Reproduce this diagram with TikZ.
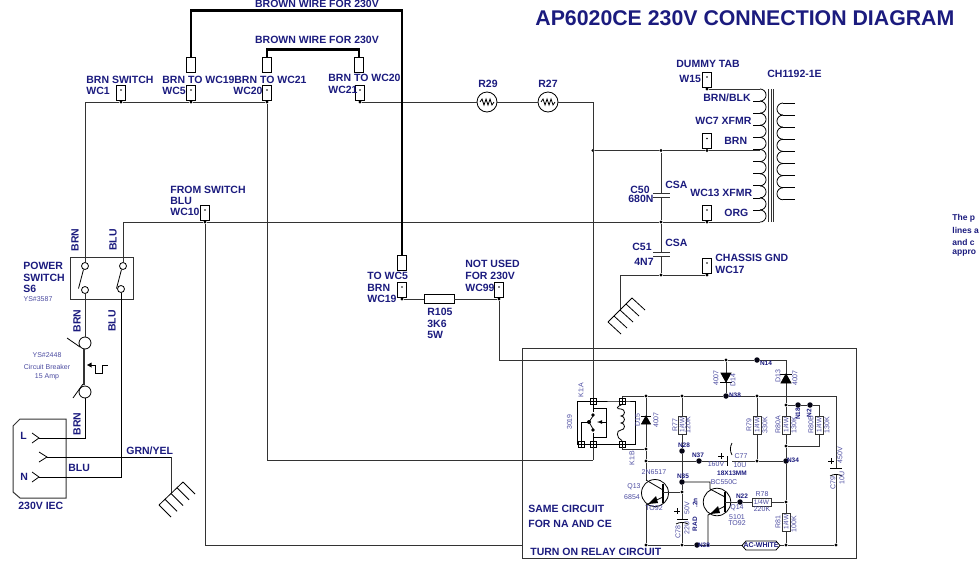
\documentclass[tikz,border=0pt]{standalone}
\usepackage{fontspec}
\setmainfont{Liberation Sans}
\definecolor{navy}{HTML}{1B1B7E}
\definecolor{thin}{HTML}{4B4BA0}
\definecolor{wire}{HTML}{333333}
\tikzset{
  lbl/.style={text=navy,font=\bfseries\fontsize{10.5}{12}\selectfont,inner sep=0pt,anchor=west},
  rlbl/.style={lbl,anchor=center,rotate=90},
  small/.style={text=thin,font=\fontsize{7}{8}\selectfont,inner sep=0pt},
  rsmall/.style={small,rotate=90},
  nlbl/.style={text=navy,font=\bfseries\fontsize{6.5}{7}\selectfont,inner sep=0pt},
  tabbox/.style={draw=black,fill=white,inner sep=0pt,minimum width=9,minimum height=15},
  jn/.style={circle,fill=black,inner sep=0pt,minimum size=3.2},
  bigjn/.style={circle,fill=black!85!navy,inner sep=0pt,minimum size=5.5},
  res/.style={draw=wire,fill=white,inner sep=0pt,minimum width=18,minimum height=8,text=thin,font=\fontsize{6.5}{7}\selectfont},
  pin/.style={draw=black,inner sep=0pt,minimum size=6},
  term/.style={circle,draw=black,fill=white,inner sep=0pt,minimum size=7},
  wirethin/.style={draw=wire,line width=0.8},
  bwire/.style={draw=black,line width=2.2}
}
\begin{document}
\begin{tikzpicture}[x=1pt,y=-1pt,line width=0.8]
\useasboundingbox (0,0) rectangle (980,560);
% tabs with a dot inside, y is that of the wire below
\foreach \nm/\x/\y in {wca/121/102,wcb/191/102,wcc/267/102,wcd/360/102,wce/205/222,wcf/402/299,wcg/499/299,wch/707/89,wci/707/150.5,wcj/707/222,wck/707/275}{
  \node[tabbox](\nm) at(\x,\y-9.5){};
  \fill (\x,\y-12) circle(0.9);
  \node[jn](\nm j) at(\x,\y){};
}
% tabs with the wire on top
\foreach \nm/\x/\y in {tpa/191/64.5,tpb/267/64.5,tpc/359/64.5,tpd/402/263}{
  \node[tabbox](\nm) at(\x,\y){};
}
% junctions
\foreach \nm/\x/\y in {ja/593/150.5,jb/661/150.5,jc/661/222,jd/661/275,jf/646/396,jg/682/396,jh/757/396,ji/646/449,jk/646/461,jl/646/545,jm/682/492,jn1/682/545,jo/708/545,jp/786/545,jq/786/502,jr/757/461,js/786/405,jt/786/446,ju/726/360,jw/836/545}{
  \node[jn](\nm) at(\x,\y){};
}
\foreach \nm/\x/\y in {ba/757/360,bb/726/396,bc/682/451,bd/682/482,be/699/461,bf/786/461,bg/798/405,bh/810/405,bi/740/502,bj/697/545}{
  \node[bigjn](\nm) at(\x,\y){};
}
% main wires
\coordinate (swl) at(85,102);
\coordinate (swr) at(123,222);
\coordinate (top) at(593,102);
\node[circle,draw=black,fill=white,inner sep=0pt,minimum size=20](r29) at(487,102){};
\node[circle,draw=black,fill=white,inner sep=0pt,minimum size=20](r27) at(548,102){};
\foreach \c in {487,548}{
  \draw (\c-7,102)--(\c-5,99)--(\c-3,105)--(\c-1,99)--(\c+1,105)--(\c+3,99)--(\c+5,105)--(\c+7,102);
}
\draw[wirethin] (swl)--(wcaj)--(wcbj)--(wccj);
\draw[wirethin] (wccj)--(267,460)--(593,460);
\draw[wirethin] (wcdj)--(r29)--(r27)--(top)--(ja);
\draw[wirethin] (ja)--(jb)--(wcij)--(760,150.5);
\draw[wirethin] (swr)--(wcej)--(jc)--(wcjj)--(760,222);
\draw[wirethin] (wcej)--(205,545)--(522,545);
\draw[wirethin] (wchj)--(760,89);
\draw[wirethin] (jb)--(661,193) (661,197)--(jc)--(661,252) (661,256)--(jd);
\draw[wirethin] (620.7,310)--(620.7,275)--(jd)--(wckj);
\draw[wirethin] (653,193)--(670,193) (653,197)--(670,197) (653,252)--(670,252) (653,256)--(670,256);
% thick links
\draw[bwire] (tpa.north)--(191,10.5)--(402,10.5)--(tpd.north);
\draw[bwire] (tpb.north)--(267,49.5)--(359,49.5)--(tpc.north);
% R105
\node[draw=black,fill=white,inner sep=0pt,minimum width=30,minimum height=8.5](r105) at(439,299){};
\draw[wirethin] (wcfj)--(r105)--(wcgj);
\draw[wirethin] (wcgj)--(499,360)--(ju)--(ba)--(786,360);
% power switch
\node[draw=wire,inner sep=0pt,minimum width=62.5,minimum height=41.5](s6) at(102,278.5){};
\node[term](sa) at(85,266){};
\node[term](sb) at(123,266){};
\node[term](sc) at(85,290){};
\node[term](sd) at(121,289){};
\draw (83.5,269.5)--(78.5,288.5) (121.5,269.5)--(116.5,288.5);
\draw[wirethin] (swl)--(sa.north);
\draw[wirethin] (swr)--(sb.north);
% breaker
\node[circle,draw=black,fill=white,inner sep=0pt,minimum size=12](cba) at(85,343){};
\node[circle,draw=black,fill=white,inner sep=0pt,minimum size=12](cbb) at(85,392){};
\draw[wirethin] (sc.south)--(cba);
\draw[line width=2,draw=wire] (83.5,349)--(83.5,385);
\draw (67,338)--(80,347) (73,398)--(83,384);
\fill (87,365)--(91.5,362.5)--(91.5,367.5)--cycle;
\draw (91,365)--(95,365)--(95,373)--(102,373)--(102,365)--(108,365);
% inlet
\draw[draw=wire,line width=1] (20,419)--(66,419)--(66,498)--(20,498)--(13,492)--(13,426)--cycle;
\coordinate (pl) at(39,438);
\coordinate (pe) at(47,457);
\coordinate (pn) at(39,477);
\coordinate (ge) at(171,457);
\draw (32,433)--(pl)--(32,443) (39,452)--(pe)--(39,462) (32,472)--(pn)--(32,482);
\draw (cbb.south)--(85,438)--(pl);
\draw (sd.south)--(121,477)--(pn);
\draw (pe)--(ge);
\draw[wirethin] (ge)--(171,493);
% ground symbols
\foreach \i in {0,...,4}{
  \draw (159+6*\i,505-5.75*\i)--(171+6*\i,517-5.75*\i);
  \draw (608+6*\i,322-6*\i)--(621+6*\i,334-6*\i);
}
\draw (159,505)--(183,482) (608,322)--(632,298);
% transformer
\foreach \i in {0,...,10}{
  \draw (760,89+12.1*\i) arc[start angle=-90,end angle=90,radius=6.05];
  \ifnum\i>0 \draw (753,89+12.1*\i)--(760,89+12.1*\i); \fi
}
\foreach \i in {0,...,7}{
  \draw (783,103+12.1*\i) arc[start angle=-90,end angle=-270,radius=6.05];
}
\foreach \i in {0,...,8}{
  \draw (783,103+12.1*\i)--(795,103+12.1*\i);
}
\foreach \x in {768.5,771,773.5}{
  \draw[draw=wire] (\x,89)--(\x,222);
}
% relay circuit box
\node[draw=wire,inner sep=0pt,minimum width=334,minimum height=210,line width=1](board) at(689.5,453){};
\node[pin](pa) at(593,401){};
\node[pin](pb) at(622,401){};
\node[pin](pc) at(581,444){};
\node[pin](pd) at(593,444){};
\node[pin](pe2) at(622,444){};
\foreach \p in {pa,pb,pc,pd,pe2}{
  \draw (\p.north)--(\p.south) (\p.west)--(\p.east);
}
\draw[line width=1] (pa.west)--(577,401)--(577,444)--(pc.west);
\draw[line width=1] (pc.east)--(pd.west) (pd.east)--(pe2.west) (pe2.east)--(635,444)--(635,401)--(pb.east)--(pb.west)--(pa.east);
\draw[wirethin] (top)--(pa.north);
\draw[wirethin] (pd.south)--(593,460);
\draw (pa.south)--(593,412) (pd.north)--(593,433);
\draw (593,408)--(606,408)--(606,437)--(593,437);
\fill (593,415) circle(1.8) (593,430) circle(1.8) (589,422) circle(2);
\draw (581,422)--(589,422) (pc.north)--(581,422);
\draw (589,422)--(593,416) (589,422)--(593,429);
\draw[-latex] (606,422)--(597,422);
\draw (pb.south) .. controls (616,407) and (616,409) .. (621,409) arc[start angle=-90,end angle=90,radius=3.5] arc[start angle=-90,end angle=90,radius=3.5] arc[start angle=-90,end angle=90,radius=3.5] .. controls (616,430) and (616,438) .. (pe2.north);
% rails
\draw[wirethin] (622,396)--(pb.north);
\draw[wirethin] (622,396)--(jf)--(jg)--(bb)--(jh)--(836,396)--(836,468);
\draw[wirethin] (836,475)--(jw);
\draw[wirethin] (622,449)--(pe2.south);
\draw[wirethin] (622,449)--(ji);
\draw[wirethin] (jf)--(ji)--(jk)--(646,480);
\draw[wirethin] (646,505)--(jl);
\draw[wirethin] (jl)--(jn1)--(bj)--(jo)--(742,545) (780,545)--(jp)--(jw);
\draw[wirethin] (jk)--(be)--(727,461) (732,461)--(jr)--(bf);
% R77, R79, R80A, R80B, R81, R78
\node[res,rotate=90](r77) at(682,425){1/4W};
\node[res,rotate=90](r79) at(757,425){1/4W};
\node[res,rotate=90](r80a) at(786,425){1/4W};
\node[res,rotate=90](r80b) at(819,425){1/4W};
\node[res,rotate=90](r81) at(786,522){1/4W};
\node[res,minimum width=19](r78) at(761.5,502){1/4W};
\draw[wirethin] (jg)--(r77.east) (r77.west)--(bc)--(bd)--(jm)--(682,519) (682,523)--(jn1);
\draw[wirethin] (jh)--(r79.east) (r79.west)--(jr);
\draw[wirethin] (786,360)--(js)--(r80a.east) (r80a.west)--(jt)--(bf)--(jq)--(r81.east) (r81.west)--(jp);
\draw[wirethin] (js)--(bg)--(bh)--(819,405)--(r80b.east) (r80b.west)--(819,446)--(jt);
\draw[wirethin] (ju)--(bb);
% diodes
\draw[fill=black] (721,373)--(731,373)--(726,382)--cycle;
\draw (720,382)--(732,382);
\draw[fill=black] (781,383)--(791,383)--(786,374)--cycle;
\draw (780,374)--(792,374);
\draw[fill=black] (641.5,424)--(650.5,424)--(646,416)--cycle;
\draw (641,416)--(651,416);
% capacitors
\draw (677,519)--(688,519);
\draw (676,524) arc[start angle=240,end angle=300,radius=12];
\draw (727,456)--(727,466);
\draw (732,455) arc[start angle=150,end angle=210,radius=12];
\draw (830,468)--(842,468);
\draw (830,476) arc[start angle=240,end angle=300,radius=12];
\draw (674,511)--(680,511) (677,508)--(677,514);
\draw (718,456)--(724,456) (721,453)--(721,459);
\draw (828,461)--(834,461) (831,458)--(831,464);
% transistors
\node[circle,draw=black,inner sep=0pt,minimum size=27](q13) at(655,493){};
\draw[line width=1.4] (663,484)--(663,503);
\draw (646,480)--(663,490);
\draw (663,497)--(646,505);
\fill (648,504)--(656,496)--(658,503)--cycle;
\draw[wirethin] (663,492)--(jm);
\node[circle,draw=black,inner sep=0pt,minimum size=27.5](q14) at(717,502){};
\draw[line width=1.4] (725,492)--(725,512);
\draw (bd)--(710,482)--(710,489)--(725,497);
\draw (725,506)--(708,515)--(jo);
\fill (710,514)--(718,506)--(720,513)--cycle;
\draw[wirethin] (725,502)--(bi)--(r78);
\draw[wirethin] (r78)--(jq);
% AC-WHITE
\node[text=navy,font=\bfseries\fontsize{7}{8}\selectfont,inner sep=0pt](acw) at(761,545.5){AC-WHITE};
\draw (746,541)--(776,541)--(780,545.5)--(776,550)--(746,550)--(742,545.5)--cycle;
% labels
\node[lbl,font=\bfseries\fontsize{21.3}{24}\selectfont](title) at(535,18){AP6020CE 230V CONNECTION DIAGRAM};
\node[lbl,anchor=center](lba) at(317,4){BROWN WIRE FOR 230V};
\node[lbl,anchor=center](lbb) at(317,40){BROWN WIRE FOR 230V};
\foreach \x/\y/\t in {86/80/BRN SWITCH,86/91/WC1,162/80/BRN TO WC19,162/91/WC5,234/80/BRN TO WC21,233/91/WC20,328/78/BRN TO WC20,328/90/WC21,170/190/FROM SWITCH,170/201/BLU,170/212/WC10,23/266/POWER,23/278/SWITCH,23/289/S6,367/276/TO WC5,367/288/BRN,367/299/WC19,465/264/NOT USED,465/276/FOR 230V,465/288/WC99,427/312/R105,427/324/3K6,427/335/5W,18/506/230V IEC,20/436/L,20/477/N,126/451/{GRN/YEL},68/468/BLU,676/64/DUMMY TAB,679/79/W15,703/98/{BRN/BLK},695/121/WC7 XFMR,724/141/BRN,690/193/WC13 XFMR,724/213/ORG,715/258/CHASSIS GND,715/270/WC17,767/74/CH1192-1E,630/190/C50,628/199/680N,665/185/CSA,632/247/C51,634/262/4N7,665/243/CSA,478/84/R29,538/84/R27,528/509/SAME CIRCUIT,528/524/FOR NA AND CE,530/552/TURN ON RELAY CIRCUIT}{
  \node[lbl] at(\x,\y){\t};
}
\foreach \x/\y/\t in {75/240/BRN,113/240/BLU,77/321/BRN,112/321/BLU,77/424/BRN}{
  \node[rlbl] at(\x,\y){\t};
}
\foreach \x/\y/\t in {47/355/YS\#2448,47/366.5/Circuit Breaker,47/377/15 Amp,38/299/YS\#3587,654/472/2N6517,634/487/Q13,632/497/6854,654/508/TO92,724/482/BC550C,737/508/Q14,737/517/5101,737/523.5/TO92,762/494/R78,762/509/220K,716/464.5/160V,741/456/C77,740/465/10U}{
  \node[small] at(\x,\y){\t};
}
\foreach \x/\y/\t in {581/390/K1:A,569.5/422/3019,637.5/420/D15,656/420/4007,675/425/R77,688/425/120K,632/458/K1:B,716/378/4007,733/380/D14,778/376/D13,795/378/4007,749/425/R79,765/425/330K,778/425/R80A,794/425/130K,811/425/R80B,827/425/130K,687/508/50V,687/528/22U,678/532/C78,778/522/R81,794/524/100K,840/455/450V,833/483/C79,842/478/10U}{
  \node[rsmall] at(\x,\y){\t};
}
\foreach \x/\y/\t in {684/445/N28,698/455/N37,766/363/N14,735/395/N38,683/476/N35,793/460/N34,742/496/N22,704/545/N38,732/473/18X13MM}{
  \node[nlbl] at(\x,\y){\t};
}
\foreach \x/\y/\t in {798/414/N18,809/413/N2,695/503/.2n,695/524/RAD}{
  \node[nlbl,rotate=90] at(\x,\y){\t};
}
\foreach \y/\t in {218/The p,230/lines a,242/and c,253/appro}{
  \node[lbl,font=\bfseries\fontsize{8.5}{10}\selectfont] at(952,\y){\t};
}
\end{tikzpicture}
\end{document}
